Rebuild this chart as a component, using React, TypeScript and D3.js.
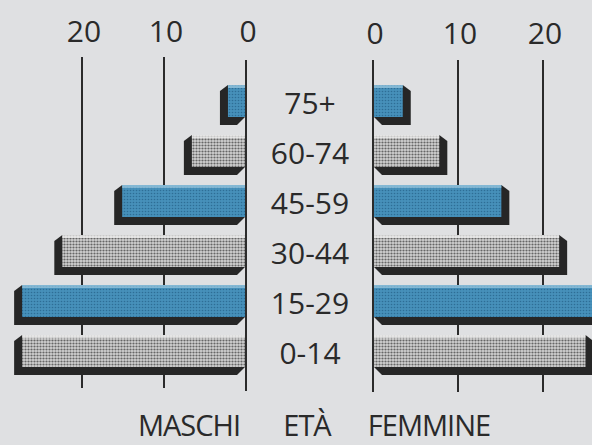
import React from "react";
import * as d3 from "d3";

const categories = ["75+", "60-74", "45-59", "30-44", "15-29", "0-14"];
const maschi = [2.2, 6.6, 15.1, 22.4, 27.3, 27.3];
const femmine = [3.5, 7.8, 15.1, 21.9, 26.8, 25.0];
const barKind = ["blue", "gray", "blue", "gray", "blue", "gray"];
const ticks = [0, 10, 20];

const W = 592;
const H = 445;

export default function App() {
  const xL = d3.scaleLinear().domain([0, 20]).range([246, 82]);
  const xR = d3.scaleLinear().domain([0, 20]).range([373, 543]);
  const y = d3
    .scaleBand<string>()
    .domain(categories)
    .range([76, 376])
    .paddingInner(0.36)
    .paddingOuter(0.18);
  const bh = y.bandwidth();
  const font = "'Open Sans', 'Noto Sans', sans-serif";
  const lineTop = 57;
  const lineBot = 388;
  const d = 8;

  const fillFor = (k: string) => (k === "blue" ? "url(#blueDots)" : "url(#grayDots)");
  const hiFor = (k: string) => (k === "blue" ? "#9cc9e0" : "#f2f2f2");

  return (
    <svg
      width={W}
      height={H}
      style={{ position: "absolute", left: 0, top: 0 }}
      xmlns="http://www.w3.org/2000/svg"
    >
      <defs>
        <pattern id="blueDots" width="3" height="3" patternUnits="userSpaceOnUse">
          <rect width="3" height="3" fill="#4690ba" />
          <circle cx="1.5" cy="1.5" r="0.8" fill="#2d6e96" />
        </pattern>
        <pattern id="grayDots" width="3" height="3" patternUnits="userSpaceOnUse">
          <rect width="3" height="3" fill="#d2d2d2" />
          <circle cx="1.5" cy="1.5" r="1.1" fill="#666666" />
        </pattern>
      </defs>
      <rect x={0} y={0} width={W} height={H} fill="#dfe0e2" />

      {/* gridlines behind bars */}
      {ticks
        .filter((t) => t !== 0)
        .map((t) => (
          <g key={"g" + t}>
            <line x1={xL(t)} x2={xL(t)} y1={lineTop} y2={lineBot} stroke="#2b2b2b" strokeWidth={2} />
            <line x1={xR(t)} x2={xR(t)} y1={lineTop + 3} y2={lineBot + 4} stroke="#2b2b2b" strokeWidth={2} />
          </g>
        ))}

      {/* male bars */}
      {categories.map((c, i) => {
        const y0 = y(c) as number;
        const x0 = xL(maschi[i]);
        const x1 = xL(0) - 1;
        const shadow = `M${x0},${y0} L${x0 - d},${y0 + 6} L${x0 - d},${y0 + bh + d} L${x1 - d},${y0 + bh + d} L${x1},${y0 + bh} Z`;
        return (
          <g key={"m" + c}>
            <path d={shadow} fill="#262626" />
            <rect x={x0} y={y0} width={x1 - x0} height={bh} fill={fillFor(barKind[i])} />
            <rect x={x0} y={y0} width={x1 - x0} height={3} fill={hiFor(barKind[i])} opacity={0.7} />
          </g>
        );
      })}

      {/* female bars */}
      {categories.map((c, i) => {
        const y0 = y(c) as number;
        const x0 = xR(0) + 1;
        const x1 = xR(femmine[i]);
        const shadow = `M${x1},${y0} L${x1 + d},${y0 + 6} L${x1 + d},${y0 + bh + d} L${x0 + d},${y0 + bh + d} L${x0},${y0 + bh} Z`;
        return (
          <g key={"f" + c}>
            <path d={shadow} fill="#262626" />
            <rect x={x0} y={y0} width={x1 - x0} height={bh} fill={fillFor(barKind[i])} />
            <rect x={x0} y={y0} width={x1 - x0} height={3} fill={hiFor(barKind[i])} opacity={0.7} />
          </g>
        );
      })}

      {/* zero axes */}
      <line x1={xL(0)} x2={xL(0)} y1={lineTop + 3} y2={lineBot + 3} stroke="#2b2b2b" strokeWidth={2} />
      <line x1={xR(0)} x2={xR(0)} y1={lineTop + 3} y2={lineBot + 4} stroke="#2b2b2b" strokeWidth={2} />

      {/* tick labels */}
      {ticks.map((t) => (
        <g key={"t" + t} fontFamily={font} fontSize={30} fill="#2a2a2a" textAnchor="middle">
          <text x={xL(t) + 2} y={42}>{t}</text>
          <text x={xR(t) + 2} y={44}>{t}</text>
        </g>
      ))}

      {/* category labels */}
      {categories.map((c) => (
        <text
          key={"c" + c}
          x={310}
          y={(y(c) as number) + bh / 2 + 1}
          dominantBaseline="central"
          textAnchor="middle"
          fontFamily={font}
          fontSize={30}
          fill="#2a2a2a"
        >
          {c}
        </text>
      ))}

      {/* bottom titles */}
      <g fontFamily={font} fontSize={29} fill="#2a2a2a" textAnchor="middle" letterSpacing={-1}>
        <text x={189} y={436}>MASCHI</text>
        <text x={307} y={436}>ETÀ</text>
        <text x={429} y={436}>FEMMINE</text>
      </g>
    </svg>
  );
}
